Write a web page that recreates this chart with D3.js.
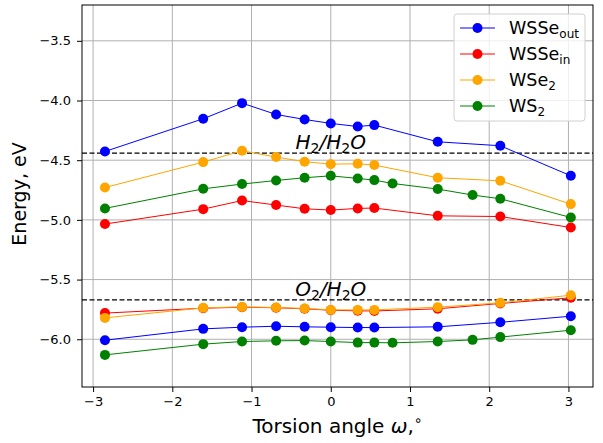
<!DOCTYPE html>
<html>
<head>
<meta charset="utf-8" />
<script src="https://cdn.jsdelivr.net/npm/d3@7"></script>
<style>
  body { margin: 0; background: #fff; }
  svg { font-family: "DejaVu Sans", sans-serif; }
</style>
</head>
<body>
<div id="graph-container"></div>
<script>
// torsion angles (x)
const angles = [-2.85, -1.61, -1.12, -0.69, -0.33, 0.0, 0.34, 0.55, 1.35, 2.14, 3.03];
const anglesWS2 = [-2.85, -1.61, -1.12, -0.69, -0.33, 0.0, 0.34, 0.55, 0.78, 1.35, 1.79, 2.14, 3.03];

// band edges, eV
const wsseOutUpper = [-4.427, -4.153, -4.022, -4.117, -4.159, -4.192, -4.218, -4.206, -4.346, -4.379, -4.631];
const wsseOutLower = [-6.008, -5.913, -5.899, -5.891, -5.896, -5.899, -5.902, -5.902, -5.896, -5.858, -5.807];
const wsseInUpper = [-5.035, -4.91, -4.838, -4.876, -4.907, -4.918, -4.904, -4.901, -4.966, -4.972, -5.064];
const wsseInLower = [-5.781, -5.74, -5.732, -5.736, -5.745, -5.757, -5.762, -5.763, -5.745, -5.7, -5.653];
const wse2Upper = [-4.729, -4.516, -4.421, -4.474, -4.513, -4.533, -4.53, -4.541, -4.647, -4.673, -4.868];
const wse2Lower = [-5.821, -5.737, -5.729, -5.734, -5.742, -5.754, -5.754, -5.754, -5.731, -5.695, -5.631];
const ws2Upper = [-4.904, -4.74, -4.7, -4.67, -4.647, -4.631, -4.653, -4.667, -4.695, -4.742, -4.792, -4.823, -4.98];
const ws2Lower = [-6.131, -6.041, -6.019, -6.013, -6.011, -6.019, -6.028, -6.028, -6.03, -6.019, -6.005, -5.982, -5.924];

// redox levels
const redoxLevels = [-4.44, -5.67];
const redoxLabels = [["H", "2", "/H", "2", "O"], ["O", "2", "/H", "2", "O"]];

const xTicks = [-3, -2, -1, 0, 1, 2, 3];
const yTicks = [-6.0, -5.5, -5.0, -4.5, -4.0, -3.5];

const series = [
  { name: "WSSe", sub: "out", color: "blue", x: angles, upper: wsseOutUpper, lower: wsseOutLower },
  { name: "WSSe", sub: "in", color: "red", x: angles, upper: wsseInUpper, lower: wsseInLower },
  { name: "WSe", sub: "2", color: "orange", x: angles, upper: wse2Upper, lower: wse2Lower },
  { name: "WS", sub: "2", color: "green", x: anglesWS2, upper: ws2Upper, lower: ws2Lower },
];

const svgWidth = 603;
const svgHeight = 443;
const margin = { top: 5, right: 10, bottom: 56, left: 82 };
const width = svgWidth - margin.left - margin.right;
const height = svgHeight - margin.top - margin.bottom;

const root = d3
  .select("#graph-container")
  .append("svg")
  .attr("width", svgWidth)
  .attr("height", svgHeight);

const svg = root
  .append("g")
  .attr("transform", "translate(" + margin.left + "," + margin.top + ")");

const xScale = d3.scaleLinear().domain([-3.14, 3.31]).range([0, width]);
const yScale = d3.scaleLinear().domain([-6.4, -3.2]).range([height, 0]);

// grid
svg
  .append("g")
  .selectAll("line")
  .data(xTicks)
  .enter()
  .append("line")
  .attr("x1", (d) => xScale(d))
  .attr("x2", (d) => xScale(d))
  .attr("y1", 0)
  .attr("y2", height)
  .attr("stroke", "#b0b0b0")
  .attr("stroke-width", 1);

svg
  .append("g")
  .selectAll("line")
  .data(yTicks)
  .enter()
  .append("line")
  .attr("x1", 0)
  .attr("x2", width)
  .attr("y1", (d) => yScale(d))
  .attr("y2", (d) => yScale(d))
  .attr("stroke", "#b0b0b0")
  .attr("stroke-width", 1);

// axes
const xAxis = svg
  .append("g")
  .attr("transform", "translate(0," + height + ")")
  .call(d3.axisBottom(xScale).tickValues(xTicks).tickSize(5).tickPadding(5).tickFormat((d) => (d < 0 ? "\u2212" + Math.abs(d) : d)));

const yAxis = svg
  .append("g")
  .call(d3.axisLeft(yScale).tickValues(yTicks).tickSize(5).tickPadding(6).tickFormat((d) => "\u2212" + Math.abs(d).toFixed(1)));

[xAxis, yAxis].forEach((ax) => {
  ax.selectAll(".domain").remove();
  ax.selectAll("text").attr("font-size", 13).attr("fill", "#000").attr("font-family", "DejaVu Sans");
  ax.selectAll(".tick line").attr("stroke", "#000").attr("stroke-width", 1);
});

// dashed redox lines
svg
  .append("g")
  .selectAll("line")
  .data(redoxLevels)
  .enter()
  .append("line")
  .attr("x1", 0)
  .attr("x2", width)
  .attr("y1", (d) => yScale(d))
  .attr("y2", (d) => yScale(d))
  .attr("stroke", "#000")
  .attr("stroke-width", 1.3)
  .attr("stroke-dasharray", "5,2.5");

const redoxText = svg
  .append("g")
  .selectAll("text")
  .data(redoxLevels)
  .enter()
  .append("text")
  .attr("x", xScale(0))
  .attr("y", (d) => yScale(d) - 4)
  .attr("text-anchor", "middle")
  .attr("font-size", 20)
  .attr("font-style", "italic");

redoxText.each(function (d, i) {
  const t = d3.select(this);
  redoxLabels[i].forEach((part, j) => {
    const isSub = j % 2 === 1;
    t.append("tspan")
      .attr("font-size", isSub ? 14 : 20)
      .attr("font-style", isSub ? "normal" : "italic")
      .attr("dy", isSub ? 4 : j > 0 ? -4 : 0)
      .text(part);
  });
});

// series lines and markers
const line = d3
  .line()
  .x((d) => xScale(d.x))
  .y((d) => yScale(d.y));

series.forEach((s) => {
  [s.upper, s.lower].forEach((vals) => {
    const pts = vals.map((v, i) => ({ x: s.x[i], y: v }));
    svg
      .append("path")
      .datum(pts)
      .attr("fill", "none")
      .attr("stroke", s.color)
      .attr("stroke-width", 1)
      .attr("d", line);
    svg
      .append("g")
      .selectAll("circle")
      .data(pts)
      .enter()
      .append("circle")
      .attr("cx", (d) => xScale(d.x))
      .attr("cy", (d) => yScale(d.y))
      .attr("r", 5)
      .attr("fill", s.color);
  });
});

// frame
svg
  .append("rect")
  .attr("width", width)
  .attr("height", height)
  .attr("fill", "none")
  .attr("stroke", "#000")
  .attr("stroke-width", 1);

// axis labels
root
  .append("text")
  .attr("transform", "translate(26," + (margin.top + height / 2 - 2) + ") rotate(-90)")
  .attr("text-anchor", "middle")
  .attr("font-size", 19)
  .text("Energy, eV");

const xLabel = root
  .append("text")
  .attr("x", margin.left + width / 2)
  .attr("y", 433)
  .attr("text-anchor", "middle")
  .attr("font-size", 20);
xLabel.append("tspan").text("Torsion angle ");
xLabel.append("tspan").attr("font-style", "italic").text("\u03c9");
xLabel.append("tspan").text(",");
xLabel.append("tspan").attr("font-size", 14).attr("dy", -8).text("\u2218");

// legend
const legend = svg.append("g").attr("transform", "translate(" + (width - 139) + ",9)");
legend
  .append("rect")
  .attr("width", 131)
  .attr("height", 107)
  .attr("rx", 3)
  .attr("fill", "#fff")
  .attr("fill-opacity", 0.8)
  .attr("stroke", "#d0d0d0");

series.forEach((s, i) => {
  const row = legend.append("g").attr("transform", "translate(0," + (14 + i * 26) + ")");
  row.append("line").attr("x1", 6).attr("x2", 41).attr("stroke", s.color).attr("stroke-width", 1);
  row.append("circle").attr("cx", 23.5).attr("r", 5).attr("fill", s.color);
  const t = row.append("text").attr("x", 55).attr("y", 6).attr("font-size", 17.5);
  t.append("tspan").text(s.name);
  t.append("tspan").attr("font-size", 12).attr("dy", 4).text(s.sub);
});
</script>
</body>
</html>
